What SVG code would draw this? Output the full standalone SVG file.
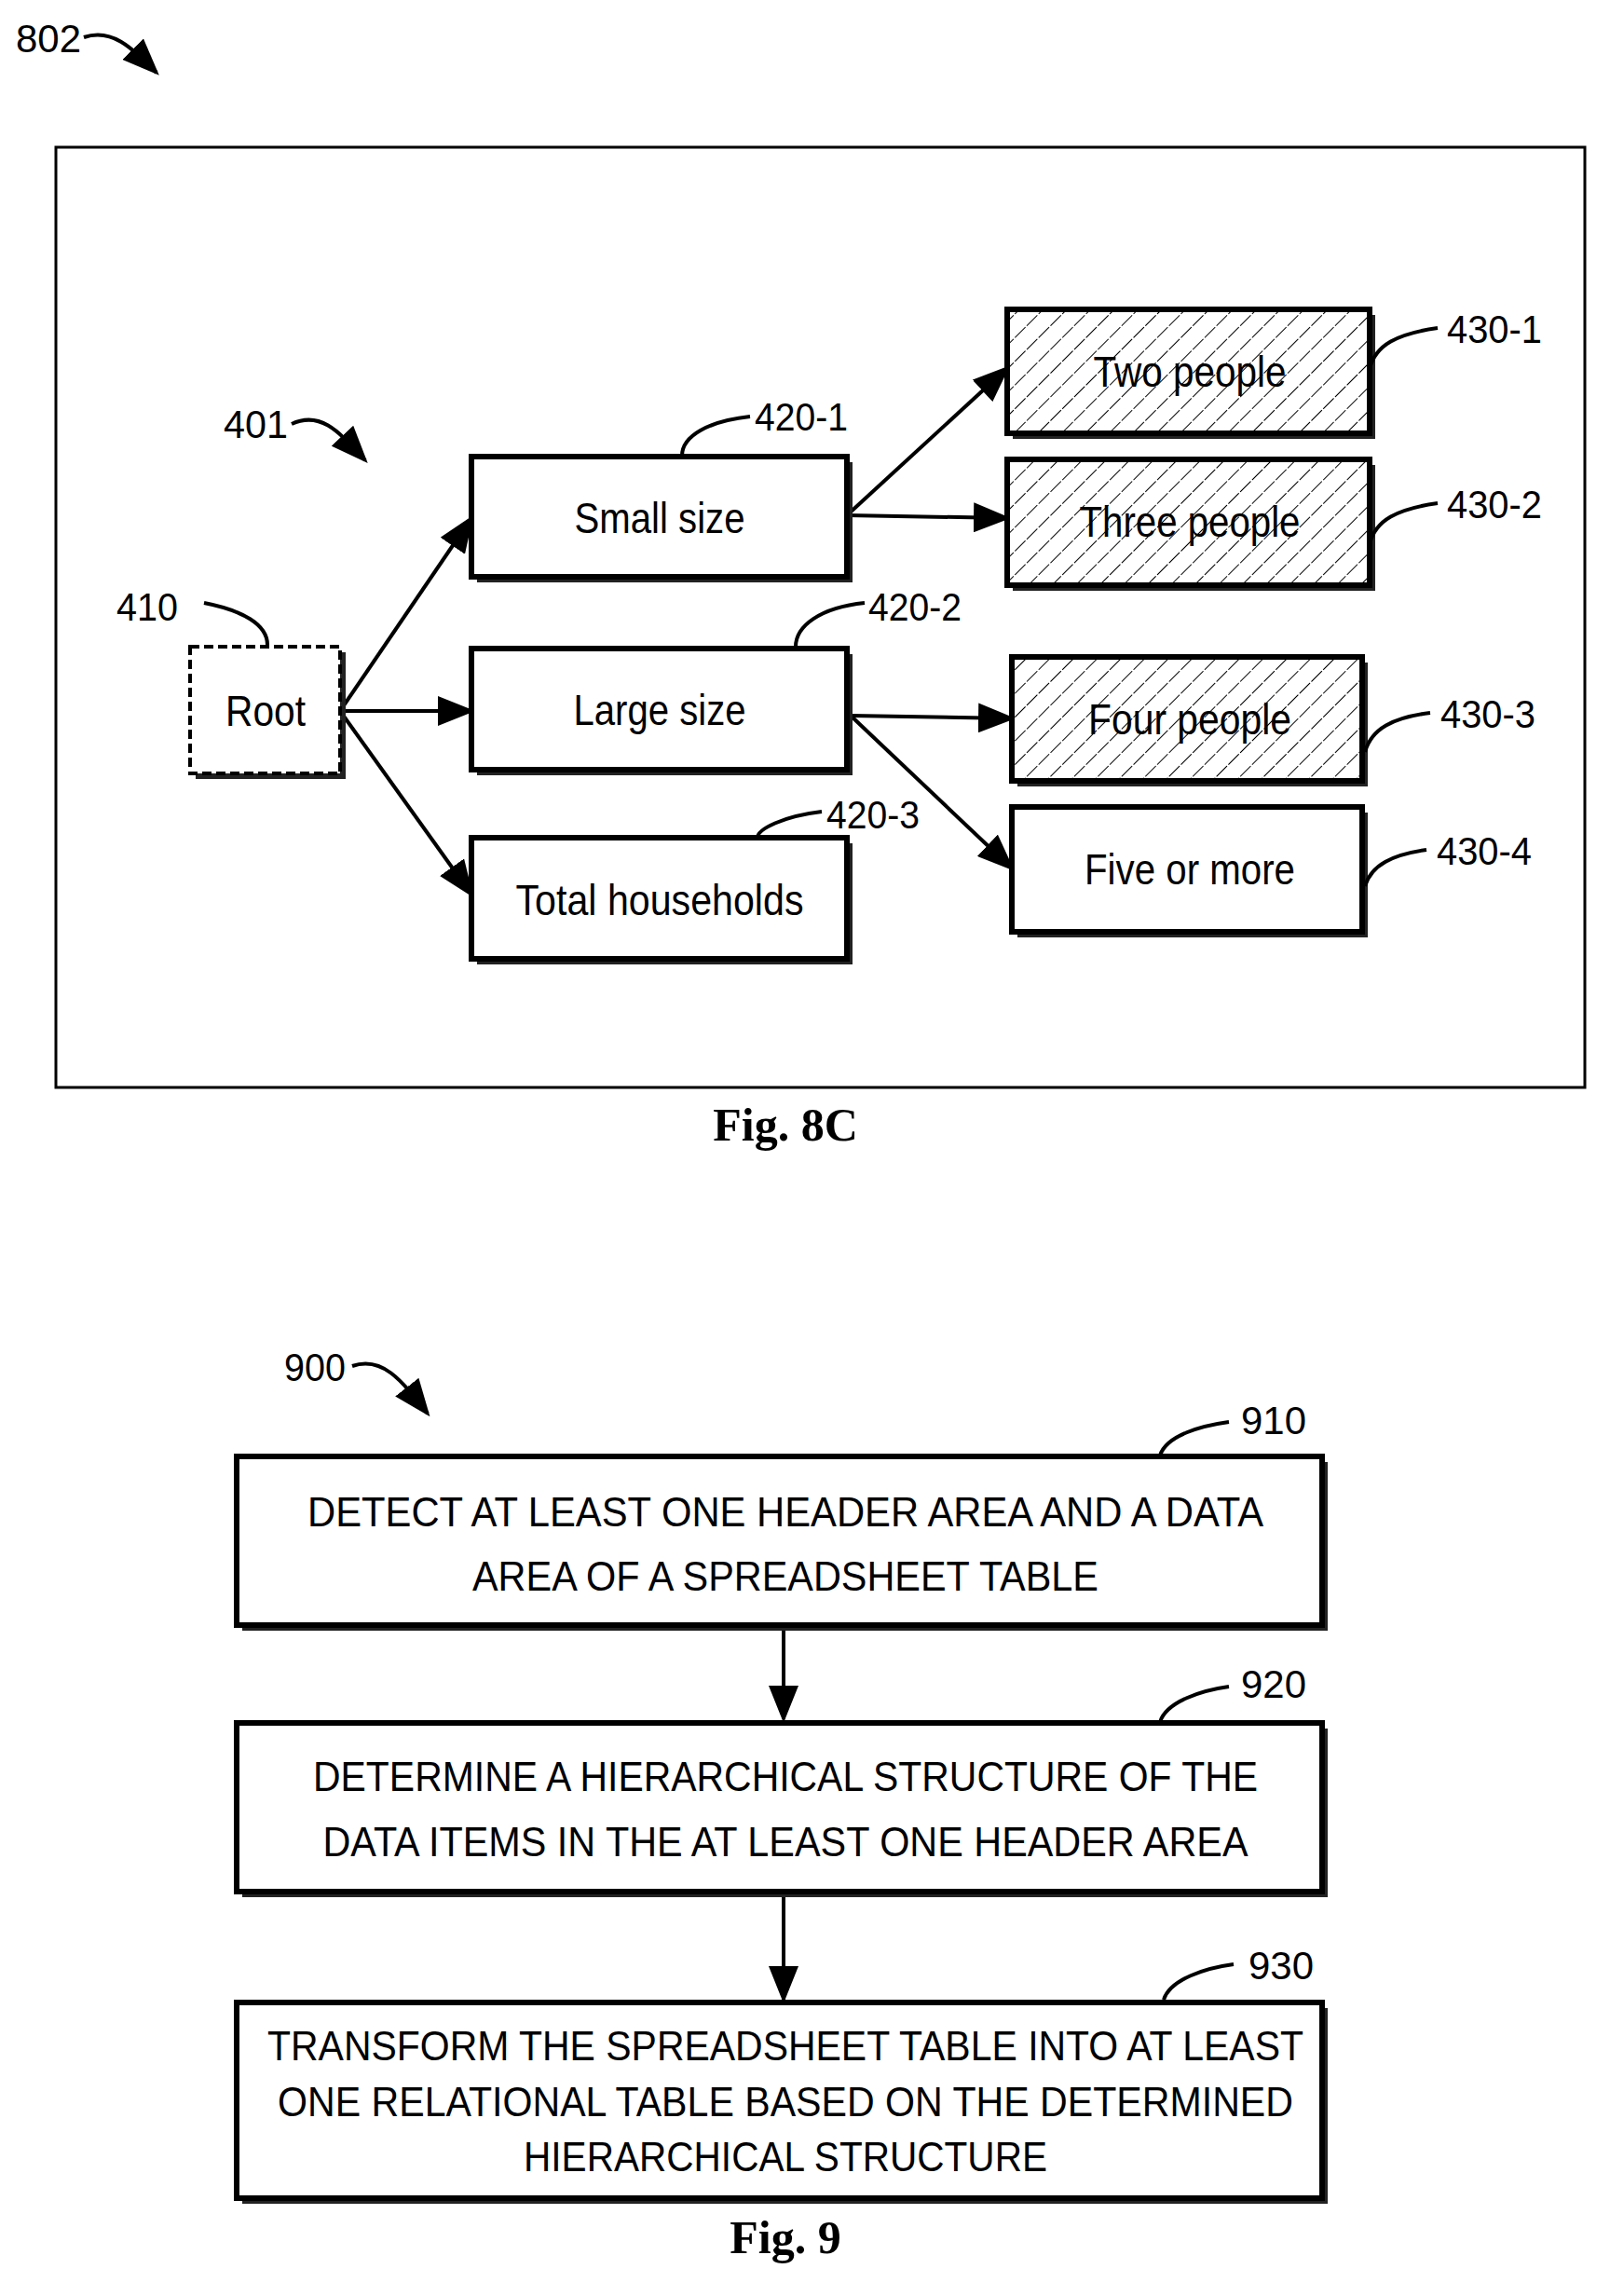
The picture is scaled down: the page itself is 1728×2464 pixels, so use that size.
<svg xmlns="http://www.w3.org/2000/svg" width="1728" height="2464" viewBox="0 0 1728 2464">
<style>
.t{font-family:"Liberation Sans",Arial,sans-serif;font-size:46px;fill:#000}
.l{font-family:"Liberation Sans",Arial,sans-serif;font-size:42px;fill:#000}
.c{font-family:"Liberation Sans",Arial,sans-serif;font-size:44px;fill:#000}
.f{font-family:"Liberation Serif","Times New Roman",serif;font-size:50px;font-weight:bold;fill:#000}
.b{fill:#fff;stroke:#000;stroke-width:6}
.h{fill:url(#hatch);stroke:#000;stroke-width:6}
.s{fill:#222}
.w{fill:none;stroke:#000;stroke-width:4}
.a{fill:none;stroke:#000;stroke-width:4;marker-end:url(#ah)}
</style>
<defs>
<marker id="ah" markerWidth="10" markerHeight="8" refX="9" refY="4" orient="auto" markerUnits="strokeWidth"><path d="M0,0 L10,4 L0,8 z" fill="#000"/></marker>
<pattern id="hatch" width="18" height="18" patternUnits="userSpaceOnUse" patternTransform="rotate(45)"><rect width="18" height="18" fill="#fff"/><line x1="0" y1="0" x2="0" y2="18" stroke="#000" stroke-width="2" stroke-dasharray="8,2"/></pattern>
</defs>
<rect width="1728" height="2464" fill="#fff"/>
<rect x="60" y="158" width="1641" height="1009" fill="none" stroke="#000" stroke-width="3"/>
<g id="label-802"><text class="l" x="17" y="56" textLength="70" lengthAdjust="spacingAndGlyphs">802</text><path class="a" d="M90,40 C120,30 140,50 168,78"/></g>
<g id="label-401"><text class="l" x="240" y="470" textLength="69" lengthAdjust="spacingAndGlyphs">401</text><path class="a" d="M313,455 C345,440 365,465 392,494"/></g>
<g id="connectors">
<path class="a" d="M365,763 L506,556"/>
<path class="a" d="M365,763 L506,763"/>
<path class="a" d="M365,763 L506,960"/>
<path class="a" d="M909,553 L1081,395"/>
<path class="a" d="M909,553 L1081,556"/>
<path class="a" d="M913,768 L1086,771"/>
<path class="a" d="M913,768 L1086,932"/>
<path class="a" d="M841,1747 L841,1845"/>
<path class="a" d="M841,2034 L841,2146"/>
</g>
<g id="node-410"><rect x="210" y="700" width="161" height="136" class="s"/><rect x="204" y="694" width="161" height="136" fill="#fff" stroke="#000" stroke-width="4" stroke-dasharray="10,5"/><text class="t" x="285" y="779" text-anchor="middle" textLength="86" lengthAdjust="spacingAndGlyphs">Root</text><text class="l" x="125" y="666" textLength="66" lengthAdjust="spacingAndGlyphs">410</text><path class="w" d="M219,647 C260,655 287,670 287,692"/></g>
<g id="node-420-1"><rect x="512" y="496" width="403" height="129" class="s"/><rect x="506" y="490" width="403" height="129" class="b"/><text class="t" x="708" y="572" text-anchor="middle" textLength="183" lengthAdjust="spacingAndGlyphs">Small size</text><text class="l" x="810" y="462" textLength="100" lengthAdjust="spacingAndGlyphs">420-1</text><path class="w" d="M805,447 C760,452 732,468 732,489"/></g>
<g id="node-420-2"><rect x="512" y="702" width="403" height="130" class="s"/><rect x="506" y="696" width="403" height="130" class="b"/><text class="t" x="708" y="778" text-anchor="middle" textLength="185" lengthAdjust="spacingAndGlyphs">Large size</text><text class="l" x="932" y="666" textLength="100" lengthAdjust="spacingAndGlyphs">420-2</text><path class="w" d="M928,647 C880,652 854,672 854,694"/></g>
<g id="node-420-3"><rect x="512" y="905" width="403" height="130" class="s"/><rect x="506" y="899" width="403" height="130" class="b"/><text class="t" x="708" y="982" text-anchor="middle" textLength="309" lengthAdjust="spacingAndGlyphs">Total households</text><text class="l" x="887" y="889" textLength="100" lengthAdjust="spacingAndGlyphs">420-3</text><path class="w" d="M882,871 C840,876 813,890 813,899"/></g>
<g id="node-430-1"><rect x="1087" y="338" width="389" height="133" class="s"/><rect x="1081" y="332" width="389" height="133" class="h"/><text class="t" x="1277" y="415" text-anchor="middle" textLength="207" lengthAdjust="spacingAndGlyphs">Two people</text><text class="l" x="1553" y="368" textLength="102" lengthAdjust="spacingAndGlyphs">430-1</text><path class="w" d="M1543,352 C1500,358 1476,370 1470,396"/></g>
<g id="node-430-2"><rect x="1087" y="499" width="389" height="135" class="s"/><rect x="1081" y="493" width="389" height="135" class="h"/><text class="t" x="1277" y="576" text-anchor="middle" textLength="237" lengthAdjust="spacingAndGlyphs">Three people</text><text class="l" x="1553" y="556" textLength="102" lengthAdjust="spacingAndGlyphs">430-2</text><path class="w" d="M1543,540 C1500,546 1476,558 1470,584"/></g>
<g id="node-430-3"><rect x="1092" y="711" width="376" height="133" class="s"/><rect x="1086" y="705" width="376" height="133" class="h"/><text class="t" x="1277" y="788" text-anchor="middle" textLength="218" lengthAdjust="spacingAndGlyphs">Four people</text><text class="l" x="1546" y="781" textLength="102" lengthAdjust="spacingAndGlyphs">430-3</text><path class="w" d="M1535,765 C1495,770 1472,782 1465,807"/></g>
<g id="node-430-4"><rect x="1092" y="872" width="376" height="134" class="s"/><rect x="1086" y="866" width="376" height="134" class="b"/><text class="t" x="1277" y="949" text-anchor="middle" textLength="226" lengthAdjust="spacingAndGlyphs">Five or more</text><text class="l" x="1542" y="928" textLength="102" lengthAdjust="spacingAndGlyphs">430-4</text><path class="w" d="M1531,912 C1495,917 1472,928 1465,951"/></g>
<text class="f" x="843" y="1224" text-anchor="middle">Fig. 8C</text>
<g id="label-900"><text class="l" x="305" y="1482" textLength="66" lengthAdjust="spacingAndGlyphs">900</text><path class="a" d="M378,1466 C410,1455 430,1480 459,1517"/></g>
<g id="node-910"><rect x="260" y="1569" width="1165" height="181" class="s"/><rect x="254" y="1563" width="1165" height="181" class="b"/><text class="c" x="843" y="1638" text-anchor="middle" textLength="1026" lengthAdjust="spacingAndGlyphs">DETECT AT LEAST ONE HEADER AREA AND A DATA</text><text class="c" x="843" y="1707" text-anchor="middle" textLength="672" lengthAdjust="spacingAndGlyphs">AREA OF A SPREADSHEET TABLE</text><text class="l" x="1332" y="1539" textLength="70" lengthAdjust="spacingAndGlyphs">910</text><path class="w" d="M1245,1562 C1252,1540 1290,1530 1319,1526"/></g>
<g id="node-920"><rect x="260" y="1855" width="1165" height="181" class="s"/><rect x="254" y="1849" width="1165" height="181" class="b"/><text class="c" x="843" y="1922" text-anchor="middle" textLength="1014" lengthAdjust="spacingAndGlyphs">DETERMINE A HIERARCHICAL STRUCTURE OF THE</text><text class="c" x="843" y="1992" text-anchor="middle" textLength="993" lengthAdjust="spacingAndGlyphs">DATA ITEMS IN THE AT LEAST ONE HEADER AREA</text><text class="l" x="1332" y="1822" textLength="70" lengthAdjust="spacingAndGlyphs">920</text><path class="w" d="M1245,1848 C1252,1826 1290,1814 1319,1810"/></g>
<g id="node-930"><rect x="260" y="2155" width="1165" height="210" class="s"/><rect x="254" y="2149" width="1165" height="210" class="b"/><text class="c" x="843" y="2211" text-anchor="middle" textLength="1112" lengthAdjust="spacingAndGlyphs">TRANSFORM THE SPREADSHEET TABLE INTO AT LEAST</text><text class="c" x="843" y="2271" text-anchor="middle" textLength="1090" lengthAdjust="spacingAndGlyphs">ONE RELATIONAL TABLE BASED ON THE DETERMINED</text><text class="c" x="843" y="2330" text-anchor="middle" textLength="562" lengthAdjust="spacingAndGlyphs">HIERARCHICAL STRUCTURE</text><text class="l" x="1340" y="2124" textLength="70" lengthAdjust="spacingAndGlyphs">930</text><path class="w" d="M1249,2146 C1256,2124 1294,2112 1324,2108"/></g>
<text class="f" x="843" y="2418" text-anchor="middle">Fig. 9</text>
</svg>
